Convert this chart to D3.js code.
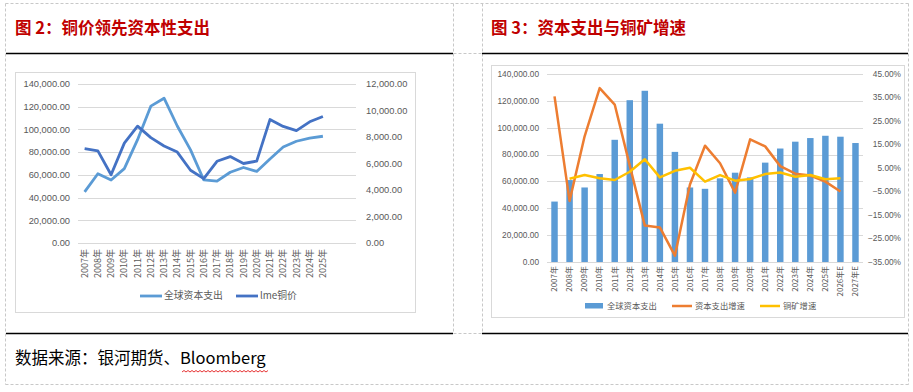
<!DOCTYPE html>
<html><head><meta charset="utf-8">
<script src="https://cdn.jsdelivr.net/npm/d3@7"></script>
<style>
body{margin:0;background:#fff;}
svg{display:block;}
text{font-family:"Liberation Sans",Arial,sans-serif;}
.cjk{font-family:"Noto Sans CJK SC","Noto Sans",sans-serif;}
</style></head>
<body>
<svg id="c" width="913" height="392"></svg>
<script>
// ---- data ----
const years = ["2007年","2008年","2009年","2010年","2011年","2012年","2013年","2014年","2015年","2016年","2017年","2018年","2019年","2020年","2021年","2022年","2023年","2024年","2025年","2026年E","2027年E"];
const leftLabels = ["2007年","2008年","2009年","2010年","2011年","2012年","2013年","2014年","2015年","2016年","2017年","2018年","2019年","2020年","2021年","2022年","2023年","2024年","2025年","",""];
const capex = [45000,61000,55500,65500,91000,120500,127500,103000,82000,55500,54500,62300,66500,63000,74000,84500,89600,92300,94000,93300,88600];
const lmeCopper = [7118,6952,5150,7535,8821,7950,7322,6862,5494,4863,6166,6523,6000,6181,9317,8797,8478,9147,9550,null,null];
const capexGrowth = [0.355,-0.09,0.185,0.39,0.32,0.06,-0.195,-0.203,-0.323,-0.02,0.145,0.07,-0.055,0.172,0.142,0.058,0.026,0.018,-0.008,-0.05,null];
const mineGrowth = [null,0.004,0.02,0.006,-0.001,0.034,0.087,0.01,0.038,0.051,-0.008,0.02,-0.004,0.003,0.024,0.031,0.013,0.02,0.002,0.006,null];
const leftTicks = [0,20000,40000,60000,80000,100000,120000,140000];
const copperTicks = [0,2000,4000,6000,8000,10000,12000];
const pctTicks = [-0.35,-0.25,-0.15,-0.05,0.05,0.15,0.25,0.35,0.45];
const title2 = "图 2：铜价领先资本性支出";
const title3 = "图 3：资本支出与铜矿增速";
const source = "数据来源：银河期货、";
const sourceEn = "Bloomberg";

const svg = d3.select("#c");
const fmtNum = d3.format(",.2f");
const fmtPct = d3.format(".2%");
const gridC = "#d9d9d9", txtC = "#595959";

// ---- page frame (dashed table lines) ----
const dash = "3,2";
function dl(x1,y1,x2,y2){svg.append("line").attr("x1",x1).attr("y1",y1).attr("x2",x2).attr("y2",y2).attr("stroke","#c8c8c8").attr("stroke-dasharray",dash).attr("stroke-width",1);}
dl(5.5,3.5,908.5,3.5);
dl(5.5,3.5,5.5,384.5);
dl(908.5,3.5,908.5,384.5);
dl(5.5,384.5,908.5,384.5);
dl(453.5,3.5,453.5,333.5);
dl(482.5,3.5,482.5,333.5);
dl(453.5,53.5,482.5,53.5);
dl(453.5,333.5,482.5,333.5);
function bl(x1,x2,y){svg.append("line").attr("x1",x1).attr("x2",x2).attr("y1",y).attr("y2",y).attr("stroke","#000").attr("stroke-width",1.5);}
bl(6,453,53.5); bl(482,908,53.5); bl(6,453,333.5); bl(482,908,333.5);

svg.append("text").attr("class","cjk").attr("x",15).attr("y",34).attr("font-size",16.5).attr("font-weight",700).attr("fill","#c00000").text(title2);
svg.append("text").attr("class","cjk").attr("x",491).attr("y",34).attr("font-size",16.5).attr("font-weight",700).attr("fill","#c00000").text(title3);

const src = svg.append("text").attr("class","cjk").attr("x",15).attr("y",364).attr("font-size",16.5).attr("fill","#000");
src.append("tspan").text(source);
src.append("tspan").text(sourceEn);
// spell-check wavy underline
{
  const x0 = 182, x1 = 268, yy = 372;
  let p = `M${x0},${yy}`;
  let up = true;
  for(let x = x0+2; x <= x1; x += 2){ p += `L${x},${up?yy-1.5:yy}`; up = !up; }
  svg.append("path").attr("d",p).attr("fill","none").attr("stroke","#e00000").attr("stroke-width",0.8);
}

// ---- LEFT chart ----
{
  svg.append("rect").attr("x",15.5).attr("y",72.5).attr("width",400).attr("height",240).attr("fill","#fff").attr("stroke",gridC);
  const x = d3.scaleBand().domain(years).range([78,356]);
  const yL = d3.scaleLinear().domain([0,140000]).range([243,84]);
  const yR = d3.scaleLinear().domain([0,12000]).range([243,84]);
  const g = svg.append("g");
  g.selectAll(".gl").data(leftTicks).enter().append("line")
    .attr("x1",78).attr("x2",356).attr("y1",d=>Math.round(yL(d))+0.5).attr("y2",d=>Math.round(yL(d))+0.5)
    .attr("stroke",gridC).attr("stroke-width",1);
  g.selectAll(".ltl").data(leftTicks).enter().append("text")
    .attr("x",70).attr("y",d=>yL(d)).attr("dy","0.35em").attr("text-anchor","end")
    .attr("font-size",9.3).attr("fill",txtC).text(d=>fmtNum(d));
  g.selectAll(".rtl").data(copperTicks).enter().append("text")
    .attr("x",366).attr("y",d=>yR(d)).attr("dy","0.35em").attr("text-anchor","start")
    .attr("font-size",9.3).attr("fill",txtC).text(d=>fmtNum(d));
  g.selectAll(".xl").data(years).enter().append("text").attr("class","cjk")
    .attr("transform",(d,i)=>`translate(${x(d)+x.bandwidth()/2},249) rotate(-90)`)
    .attr("text-anchor","end").attr("dy","0.35em").attr("font-size",9).attr("fill",txtC)
    .text((d,i)=>leftLabels[i]);
  const lineL = d3.line().defined(d=>d.v!=null).x(d=>x(d.k)+x.bandwidth()/2).y(d=>yL(d.v));
  const lineR = d3.line().defined(d=>d.v!=null).x(d=>x(d.k)+x.bandwidth()/2).y(d=>yR(d.v));
  const capexL = years.map((k,i)=>({k,v:i<19?capex[i]:null}));
  const cuL = years.map((k,i)=>({k,v:lmeCopper[i]}));
  g.append("path").attr("d",lineL(capexL)).attr("fill","none").attr("stroke","#5b9bd5").attr("stroke-width",2.8).attr("stroke-linejoin","round");
  g.append("path").attr("d",lineR(cuL)).attr("fill","none").attr("stroke","#4472c4").attr("stroke-width",2.8).attr("stroke-linejoin","round");
  // legend
  const lg = [{t:"全球资本支出",c:"#5b9bd5",x:140},{t:"lme铜价",c:"#4472c4",x:236}];
  lg.forEach(d=>{
    g.append("line").attr("x1",d.x).attr("x2",d.x+22).attr("y1",296).attr("y2",296).attr("stroke",d.c).attr("stroke-width",2.8);
    g.append("text").attr("class","cjk").attr("x",d.x+24).attr("y",296).attr("dy","0.35em").attr("font-size",9.8).attr("fill",txtC).text(d.t);
  });
}

// ---- RIGHT chart ----
{
  svg.append("rect").attr("x",491.5).attr("y",65.5).attr("width",413).attr("height",252).attr("fill","#fff").attr("stroke",gridC);
  const x = d3.scaleBand().domain(years).range([547,863]).paddingInner(0.57).paddingOuter(0.285);
  const yL = d3.scaleLinear().domain([0,140000]).range([262,74]);
  const yR = d3.scaleLinear().domain([-0.35,0.45]).range([262,74]);
  const g = svg.append("g");
  g.selectAll(".gl").data(leftTicks).enter().append("line")
    .attr("x1",547).attr("x2",863).attr("y1",d=>Math.round(yL(d))+0.5).attr("y2",d=>Math.round(yL(d))+0.5)
    .attr("stroke",gridC).attr("stroke-width",1);
  g.selectAll(".ltl").data(leftTicks).enter().append("text")
    .attr("x",539).attr("y",d=>yL(d)).attr("dy","0.35em").attr("text-anchor","end")
    .attr("font-size",8.3).attr("fill",txtC).text(d=>fmtNum(d));
  g.selectAll(".rtl").data(pctTicks).enter().append("text")
    .attr("x",901).attr("y",d=>yR(d)).attr("dy","0.35em").attr("text-anchor","end")
    .attr("font-size",8.3).attr("fill",txtC).text(d=>fmtPct(d));
  g.selectAll(".bar").data(years).enter().append("rect")
    .attr("x",d=>x(d)).attr("width",x.bandwidth())
    .attr("y",(d,i)=>yL(capex[i])).attr("height",(d,i)=>yL(0)-yL(capex[i]))
    .attr("fill","#5b9bd5");
  g.selectAll(".xl").data(years).enter().append("text").attr("class","cjk")
    .attr("transform",d=>`translate(${x(d)+x.bandwidth()/2},266) rotate(-90)`)
    .attr("text-anchor","end").attr("dy","0.35em").attr("font-size",8).attr("fill",txtC)
    .text(d=>d);
  const line = d3.line().defined(d=>d.v!=null).x(d=>x(d.k)+x.bandwidth()/2).y(d=>yR(d.v));
  g.append("path").attr("d",line(years.map((k,i)=>({k,v:capexGrowth[i]})))).attr("fill","none").attr("stroke","#ed7d31").attr("stroke-width",2.5).attr("stroke-linejoin","round");
  g.append("path").attr("d",line(years.map((k,i)=>({k,v:mineGrowth[i]})))).attr("fill","none").attr("stroke","#ffc000").attr("stroke-width",2.5).attr("stroke-linejoin","round");
  // legend
  g.append("rect").attr("x",585).attr("y",303).attr("width",18).attr("height",5.5).attr("fill","#5b9bd5");
  g.append("text").attr("class","cjk").attr("x",607).attr("y",306).attr("dy","0.35em").attr("font-size",8.3).attr("fill",txtC).text("全球资本支出");
  g.append("line").attr("x1",672).attr("x2",692).attr("y1",306).attr("y2",306).attr("stroke","#ed7d31").attr("stroke-width",2.5);
  g.append("text").attr("class","cjk").attr("x",695).attr("y",306).attr("dy","0.35em").attr("font-size",8.3).attr("fill",txtC).text("资本支出增速");
  g.append("line").attr("x1",760).attr("x2",780).attr("y1",306).attr("y2",306).attr("stroke","#ffc000").attr("stroke-width",2.5);
  g.append("text").attr("class","cjk").attr("x",783).attr("y",306).attr("dy","0.35em").attr("font-size",8.3).attr("fill",txtC).text("铜矿增速");
}
</script>
</body></html>
